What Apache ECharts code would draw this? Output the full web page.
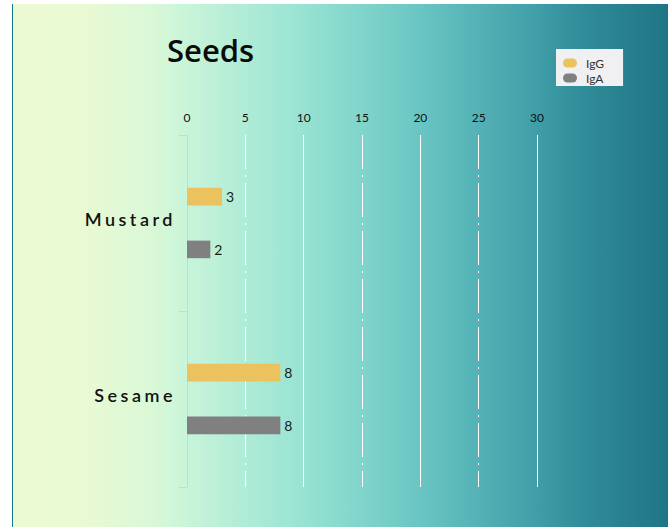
<!DOCTYPE html>
<html>
<head>
<meta charset="utf-8">
<script src="https://cdn.jsdelivr.net/npm/echarts@6/dist/echarts.min.js"></script>
<style>
  html, body { margin: 0; padding: 0; background: #ffffff; }
  #panel {
    position: absolute; left: 12px; top: 4px; right: 0; bottom: 0;
    border-left: 1px solid #127b8b;
    background: linear-gradient(to right,
      #ecfad3 0%, #eafad3 10%, #daf8d7 21%, #c7f4d9 27%,
      #98e3d3 44%, #6ac6c3 62%, #3f9ea7 80%, #2f8a97 88%, #1f7585 100%);
  }
  #chart { position: absolute; left: 0; top: 0; width: 668px; height: 527px; }
</style>
</head>
<body>
<div id="panel"></div>
<div id="chart"></div>
<script>
// Antibody levels per seed allergen
const categories = ['Mustard', 'Sesame'];
const seriesNames = ['IgG', 'IgA'];
const iggValues = [3, 8];
const igaValues = [2, 8];
const axisMin = 0;
const axisMax = 30;
const axisStep = 5;

const el = document.getElementById('chart');
const chart = echarts.init(el, null, { renderer: 'svg' });

const labelStyle = {
  show: true,
  position: 'right',
  distance: 4,
  fontFamily: 'Lato',
  fontSize: 14,
  color: '#1a1a1a'
};

// pill-shaped legend marker
const pillIcon = 'path://M4.5,0 L9.5,0 A4.5,4.5 0 0 1 9.5,9 L4.5,9 A4.5,4.5 0 0 1 4.5,0 Z';

chart.setOption({
  animation: false,
  backgroundColor: 'transparent',
  title: {
    text: 'Seeds',
    left: 162,
    top: 29,
    textStyle: { fontFamily: 'Open Sans', fontSize: 31, fontWeight: 600, color: '#0a0a0a' }
  },
  legend: {
    data: seriesNames,
    orient: 'vertical',
    left: 556,
    top: 49,
    backgroundColor: '#f0f0f2',
    padding: [8, 19, 2, 7],
    itemWidth: 14,
    itemHeight: 9,
    itemGap: 3,
    icon: pillIcon,
    textStyle: { fontFamily: 'Lato', fontSize: 12, color: '#333333', padding: [0, 0, 0, 4] }
  },
  grid: { left: 187, right: 131, top: 135, bottom: 40, containLabel: false },
  xAxis: [
    {
      type: 'value',
      position: 'top',
      min: axisMin,
      max: axisMax,
      interval: axisStep,
      axisLine: { show: false },
      axisTick: { show: false },
      axisLabel: { fontFamily: 'Lato', fontSize: 12, color: '#111111', margin: 12 },
      splitLine: {
        show: true,
        lineStyle: { color: ['rgba(0,0,0,0)', '#ffffff'], width: 1, type: [34, 6, 2, 6] }
      }
    },
    {
      type: 'value',
      position: 'top',
      min: axisMin,
      max: axisMax,
      interval: axisStep * 2,
      axisLine: { show: false },
      axisTick: { show: false },
      axisLabel: { show: false },
      splitLine: {
        show: true,
        showMinLine: false,
        lineStyle: { color: '#ffffff', width: 1, type: 'solid' }
      }
    }
  ],
  yAxis: {
    type: 'category',
    data: categories,
    inverse: true,
    axisLine: { show: true, lineStyle: { color: '#cfd3e6', width: 1 } },
    axisTick: { show: true, length: 8, lineStyle: { color: '#cfd3e6' } },
    axisLabel: {
      fontFamily: 'Lato', fontSize: 18, fontWeight: 600, color: '#111111', margin: 11,
      verticalAlign: 'bottom', lineHeight: 8
    },
    splitLine: { show: false }
  },
  series: [
    {
      name: seriesNames[0],
      type: 'bar',
      data: iggValues,
      barWidth: '10%',
      barGap: '200%',
      itemStyle: { color: '#ebc25e' },
      label: labelStyle
    },
    {
      name: seriesNames[1],
      type: 'bar',
      data: igaValues,
      barWidth: '10%',
      barGap: '200%',
      itemStyle: { color: '#808080' },
      label: labelStyle
    }
  ]
});

// Spread out the letters of the category names
function spaceCategoryLabels() {
  el.querySelectorAll('text').forEach(function (t) {
    if (categories.indexOf(t.textContent.trim()) >= 0) {
      t.setAttribute('letter-spacing', '3.5px');
    }
  });
}
spaceCategoryLabels();
chart.on('finished', spaceCategoryLabels);
</script>
</body>
</html>
